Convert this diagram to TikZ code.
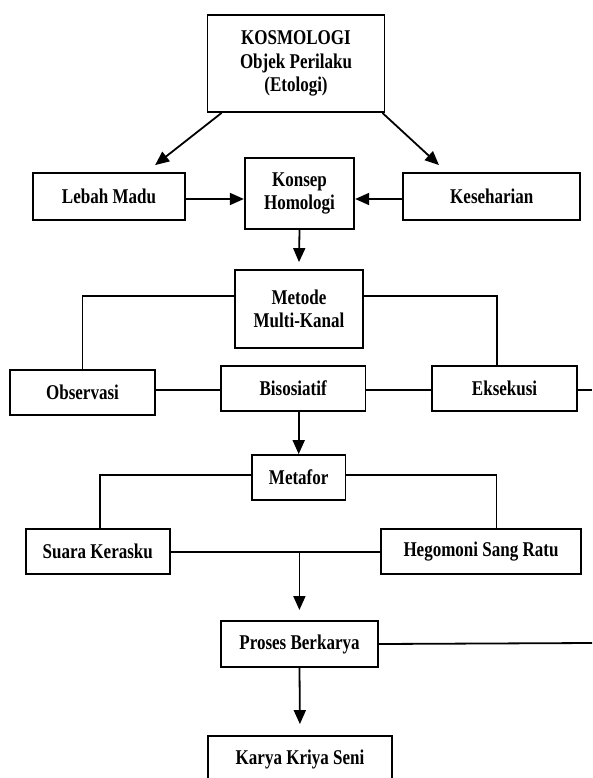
\documentclass[tikz,border=0pt]{standalone}
\usepackage{fontspec}
\setmainfont{Liberation Serif}[FakeStretch=0.81]
\usetikzlibrary{arrows.meta,positioning}
\begin{document}
\begin{tikzpicture}[x=1pt,y=-1pt,
  txt/.style={font=\fontsize{21}{23.5}\selectfont\bfseries},
  box/.style={txt, draw, line width=1.8pt, align=center, inner sep=0pt},
  ln/.style={line width=1.8pt},
  arr/.style={line width=1.8pt, -{Triangle[length=14pt,width=12pt]}}]
\clip (0,0) rectangle (592,778);
\fill[white] (0,0) rectangle (592,778);
% nodes
\node[box, minimum width=177pt, minimum height=97pt] (kos) at (296,63.5) {KOSMOLOGI\\Objek Perilaku\\(Etologi)};
\node[box, minimum width=152pt, minimum height=47pt] (lebah) at (109,196.5) {Lebah Madu};
\node[box, minimum width=109.5pt, minimum height=71pt] (konsep) at (299.5,193.5) {Konsep\\Homologi};
\node[box, minimum width=177pt, minimum height=47pt] (kes) at (491.8,196.5) {Keseharian};
\node[box, minimum width=128.4pt, minimum height=78pt] (metode) at (299,309) {Metode\\Multi-Kanal};
\node[box, minimum width=144.6pt, minimum height=45pt] (obs) at (82.5,392.5) {Observasi};
\node[box, minimum width=144.6pt, minimum height=45pt] (bis) at (293.2,388.5) {Bisosiatif};
\node[box, minimum width=144.6pt, minimum height=45pt] (eks) at (504.6,388.5) {Eksekusi};
\node[box, minimum width=93.6pt, minimum height=45pt] (metafor) at (298.7,477.5) {Metafor};
\node[box, minimum width=144.2pt, minimum height=45pt] (suara) at (97.8,551.5) {Suara Kerasku};
\node[box, minimum width=199.4pt, minimum height=45pt] (hego) at (481,551.5) {Hegomoni Sang Ratu};
\node[box, minimum width=157pt, minimum height=46pt] (proses) at (299.5,644) {Proses Berkarya};
\node[box, minimum width=184pt, minimum height=50pt] (karya) at (300,761) {};
\node[txt, inner sep=0pt] (karyatxt) at (300,759) {Karya Kriya Seni};
% free ends
\coordinate (edge1) at (592,390);
\coordinate (edge2) at (592,643);
\coordinate (junc) at (299.4,552);
\coordinate (tip) at (299.4,610);
% connectors
\draw[arr] ([xshift=15pt]kos.south west) -- ([xshift=123pt,yshift=7pt]lebah.north west);
\draw[arr] ([xshift=-3pt]kos.south east) -- ([xshift=36.6pt,yshift=7pt]kes.north west);
\draw[arr] (lebah.east |- 0,199) -- (konsep.west |- 0,199);
\draw[arr] (kes.west |- 0,199) -- (konsep.east |- 0,199);
\draw[arr] (konsep.south) -- ([yshift=7pt]metode.north);
\draw[ln] ([yshift=13pt]metode.west) -| (obs.north);
\draw[ln] ([yshift=13pt]metode.east) -| ([xshift=-8pt]eks.north);
\draw[ln] (obs.east |- 0,390) -- (bis.west |- 0,390);
\draw[ln] (bis.east |- 0,390) -- (eks.west |- 0,390);
\draw[ln] (eks.east |- edge1) -- (edge1);
\draw[arr] (bis.south -| metafor.north) -- (metafor.north);
\draw[ln] ([yshift=2.5pt]metafor.west) -| ([xshift=2pt]suara.north);
\draw[ln] ([yshift=2.5pt]metafor.east) -| ([xshift=15.5pt]hego.north);
\draw[ln] (suara.east |- junc) -- (hego.west |- junc);
\draw[arr] (junc) -- (tip);
\draw[ln] (proses.east) -- (edge2);
\draw[arr, shorten >=11pt] (proses.south) -- (karya.north);
\end{tikzpicture}
\end{document}
